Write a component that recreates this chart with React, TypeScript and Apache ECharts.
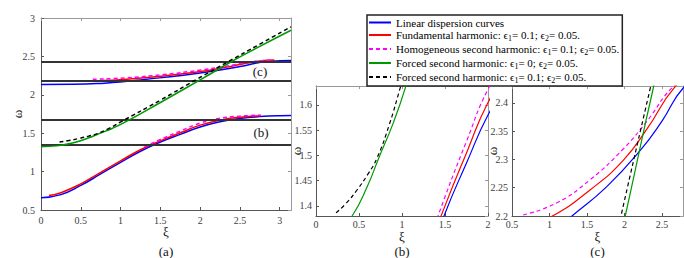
import React, { useEffect, useRef } from 'react';
import * as echarts from 'echarts';

const FONT = 'Liberation Serif';

const seriesNames = [
  'Linear dispersion curves',
  'Fundamental harmonic: ϵ1= 0.1; ϵ2= 0.05.',
  'Homogeneous second harmonic: ϵ1= 0.1; ϵ2= 0.05.',
  'Forced second harmonic: ϵ1= 0; ϵ2= 0.05.',
  'Forced second harmonic: ϵ1= 0.1; ϵ2= 0.05.',
];

// Linear dispersion curves (lower and upper branch)
const linLowXi = [0, 0.25, 0.5, 0.75, 1.0, 1.25, 1.5, 1.75, 2.0, 2.25, 2.5, 2.75, 3.0, 3.1416];
const linLowW = [0.66, 0.70, 0.82, 0.97, 1.12, 1.265, 1.385, 1.485, 1.58, 1.648, 1.692, 1.716, 1.728, 1.73];
const linUpXi = [0, 0.4, 0.8, 1.05, 1.3, 1.764, 2.21, 2.5, 2.78, 3.0, 3.1416];
const linUpW = [2.135, 2.137, 2.152, 2.172, 2.2, 2.252, 2.316, 2.368, 2.426, 2.443, 2.448];

// Fundamental harmonic
const fundLowXi = [0.1, 0.25, 0.5, 0.75, 1.0, 1.25, 1.5, 1.75, 2.0, 2.25, 2.5, 2.76];
const fundLowW = [0.69, 0.725, 0.84, 0.99, 1.14, 1.285, 1.40, 1.505, 1.605, 1.67, 1.708, 1.728];
const fundUpXi = [0.75, 1.04, 1.54, 1.986, 2.3, 2.67, 2.93];
const fundUpW = [2.186, 2.2, 2.246, 2.299, 2.354, 2.428, 2.452];

// Homogeneous second harmonic
const homLowXi = [1.3, 1.5, 1.75, 2.0, 2.25, 2.5, 2.76];
const homLowW = [1.322, 1.418, 1.528, 1.631, 1.695, 1.722, 1.736];
const homUpXi = [0.65, 1.094, 1.54, 1.986, 2.3, 2.64, 2.93];
const homUpW = [2.202, 2.223, 2.264, 2.319, 2.368, 2.428, 2.455];

// Forced second harmonic, eps1 = 0
const forced0Xi = [0, 0.2, 0.42, 0.6, 0.73, 0.9, 1.05, 1.5, 2.01, 2.39, 2.75, 3.1416];
const forced0W = [1.325, 1.335, 1.38, 1.44, 1.495, 1.565, 1.64, 1.90, 2.2, 2.43, 2.63, 2.84];

// Forced second harmonic, eps1 = 0.1
const forced1Xi = [0.233, 0.35, 0.477, 0.6, 0.71, 0.85, 0.99, 1.5, 1.953, 2.35, 2.75, 3.1416];
const forced1W = [1.3865, 1.405, 1.4315, 1.462, 1.495, 1.56, 1.64, 1.93, 2.2, 2.43, 2.66, 2.885];

// horizontal lines in (a) marking the zoom windows
const zoomBoxLevels = [1.355, 1.676, 2.184, 2.427];

const panelLabels = ['(a)', '(b)', '(c)'];
const insetLabels = ['(c)', '(b)'];

const colors = ['#0000ff', '#ff0000', '#ff00ff', '#009a00', '#000000'];
const dashed = [false, false, true, false, true];

const curves = [
  { k: 0, xi: linLowXi, w: linLowW },
  { k: 0, xi: linUpXi, w: linUpW },
  { k: 1, xi: fundLowXi, w: fundLowW },
  { k: 1, xi: fundUpXi, w: fundUpW },
  { k: 2, xi: homLowXi, w: homLowW },
  { k: 2, xi: homUpXi, w: homUpW },
  { k: 3, xi: forced0Xi, w: forced0W },
  { k: 4, xi: forced1Xi, w: forced1W },
];

const zip = (a: number[], b: number[]) => a.map((v, i) => [v, b[i]]);

const grids = [
  { left: 41, top: 18, right: 393, bottom: 48 },
  { left: 316, top: 86, right: 196, bottom: 42 },
  { left: 512, top: 86, right: 1, bottom: 42 },
];

const ranges = [
  { x: [0, Math.PI], xi: 0.5, y: [0.5, 3], yi: 0.5, xMinL: true, xMaxL: false, yMinL: true, yMaxL: true, xGap: 15, yGap: 17, lw: 1.5, lm: 5 },
  { x: [0, 2], xi: 0.5, y: [1.38, 1.6376], yi: null, xMinL: true, xMaxL: true, yMinL: false, yMaxL: false, xGap: 14, yGap: 13, lw: 1.2, lm: 3 },
  { x: [0.5, 2.78], xi: 0.5, y: [2.2, 2.43], yi: 0.05, xMinL: true, xMaxL: false, yMinL: true, yMaxL: false, xGap: 14, yGap: 13, lw: 1.2, lm: 3 },
];

function buildOption() {
  const xAxis: any[] = [];
  const yAxis: any[] = [];
  const tickStyle = { color: '#555', width: 1 };
  const labelStyle = (m: number, minL: boolean, maxL: boolean) => ({
    show: true, margin: m, fontSize: 10, lineHeight: 10, fontFamily: FONT, color: '#404040',
    showMinLabel: minL, showMaxLabel: maxL, hideOverlap: false,
  });
  ranges.forEach((r, g) => {
    const yInt: any = r.yi != null ? { interval: r.yi } : { minInterval: 0.05, maxInterval: 0.05 };
    xAxis.push({
      type: 'value', gridIndex: g, min: r.x[0], max: r.x[1], interval: r.xi, position: 'bottom',
      axisLine: { show: true, onZero: false, lineStyle: { color: '#555', width: 1 } },
      axisTick: { show: true, inside: true, length: 3, lineStyle: tickStyle },
      axisLabel: labelStyle(r.lm, r.xMinL, r.xMaxL),
      splitLine: { show: false },
      name: 'ξ', nameLocation: 'middle', nameGap: r.xGap, nameMoveOverlap: false,
      nameTextStyle: { fontFamily: FONT, fontSize: 13, color: '#111', lineHeight: 13 },
    });
    xAxis.push({
      type: 'value', gridIndex: g, min: r.x[0], max: r.x[1], interval: r.xi, position: 'top',
      axisLine: { show: true, onZero: false, lineStyle: { color: '#999', width: 1 } },
      axisTick: { show: true, inside: true, length: 3, lineStyle: { color: '#999' } },
      axisLabel: { show: false }, splitLine: { show: false },
    });
    yAxis.push({
      type: 'value', gridIndex: g, min: r.y[0], max: r.y[1], ...yInt, position: 'left',
      axisLine: { show: true, onZero: false, lineStyle: { color: '#555', width: 1 } },
      axisTick: { show: true, inside: true, length: 3, lineStyle: tickStyle },
      axisLabel: labelStyle(r.lm + 1, r.yMinL, r.yMaxL),
      splitLine: { show: false },
      name: 'ω', nameLocation: 'middle', nameGap: r.yGap, nameRotate: 90, nameMoveOverlap: false,
      nameTextStyle: { fontFamily: FONT, fontSize: 13, color: '#111' },
    });
    yAxis.push({
      type: 'value', gridIndex: g, min: r.y[0], max: r.y[1], ...yInt, position: 'right',
      axisLine: { show: true, onZero: false, lineStyle: { color: '#999', width: 1 } },
      axisTick: { show: true, inside: true, length: 3, lineStyle: { color: '#999' } },
      axisLabel: { show: false }, splitLine: { show: false },
    });
  });

  const series: any[] = [];
  ranges.forEach((r, g) => {
    curves.forEach((c, ci) => {
      const s: any = {
        type: 'line',
        name: seriesNames[c.k],
        xAxisIndex: g * 2,
        yAxisIndex: g * 2,
        data: zip(c.xi, c.w),
        symbol: 'none',
        showSymbol: false,
        smooth: 0.5,
        clip: true,
        silent: true,
        emphasis: { disabled: true },
        itemStyle: { color: colors[c.k] },
        lineStyle: { color: colors[c.k], width: r.lw, type: dashed[c.k] ? [4, 3] : 'solid' },
        z: 2 + c.k,
      };
      if (g === 0 && ci === 0) {
        s.markLine = {
          silent: true,
          symbol: 'none',
          label: { show: false },
          emphasis: { disabled: true },
          lineStyle: { color: '#333', width: 2, type: 'solid' },
          data: zoomBoxLevels.map((v) => ({ yAxis: v })),
        };
      }
      series.push(s);
    });
  });

  const rich = {
    t: { fontFamily: FONT, fontSize: 11, color: '#000', lineHeight: 12 },
    s: { fontFamily: FONT, fontSize: 8, color: '#000', lineHeight: 12, padding: [6, 0, 0, 0] },
  };

  const graphic: any[] = [];
  const labelX = [166, 402, 597.5];
  panelLabels.forEach((t, i) => {
    graphic.push({
      type: 'text', x: labelX[i], y: 251, silent: true,
      style: { text: t, fontFamily: FONT, fontSize: 13, fill: '#111', align: 'center', verticalAlign: 'middle' },
    });
  });
  const insetPos = [[260, 71.5], [261, 132]];
  insetLabels.forEach((t, i) => {
    graphic.push({
      type: 'text', x: insetPos[i][0], y: insetPos[i][1], silent: true, z: 100,
      style: { text: t, fontFamily: FONT, fontSize: 13, fill: '#111', align: 'center', verticalAlign: 'middle' },
    });
  });

  return {
    animation: false,
    backgroundColor: '#ffffff',
    grid: grids.map((g) => ({ ...g })),
    xAxis,
    yAxis,
    legend: {
      show: true,
      data: seriesNames,
      orient: 'vertical',
      left: 367,
      top: 15,
      itemGap: 0,
      itemWidth: 22,
      itemHeight: 12,
      padding: [2, 3, 2, 1],
      backgroundColor: '#ffffff',
      borderColor: '#222',
      borderWidth: 1.5,
      borderRadius: 0,
      selectedMode: false,
      itemStyle: { color: 'rgba(0,0,0,0)', borderColor: 'rgba(0,0,0,0)', borderWidth: 0, opacity: 0 },
      formatter: (name: string) => '{t|' + name.replace(/ϵ(\d)/g, 'ϵ}{s|$1}{t|') + '}',
      textStyle: { fontFamily: FONT, fontSize: 11, color: '#000', rich },
    },
    tooltip: { show: false },
    graphic,
    series,
  };
}

export default function App() {
  const ref = useRef<HTMLDivElement>(null);
  useEffect(() => {
    document.documentElement.style.margin = '0';
    document.documentElement.style.padding = '0';
    document.body.style.margin = '0';
    document.body.style.padding = '0';
    document.body.style.overflow = 'hidden';
    if (!ref.current) return;
    const chart = echarts.init(ref.current, undefined, { renderer: 'svg' });
    chart.setOption(buildOption() as any);
    return () => chart.dispose();
  }, []);
  return <div ref={ref} style={{ width: 684, height: 258, background: '#fff', margin: 0 }} />;
}
